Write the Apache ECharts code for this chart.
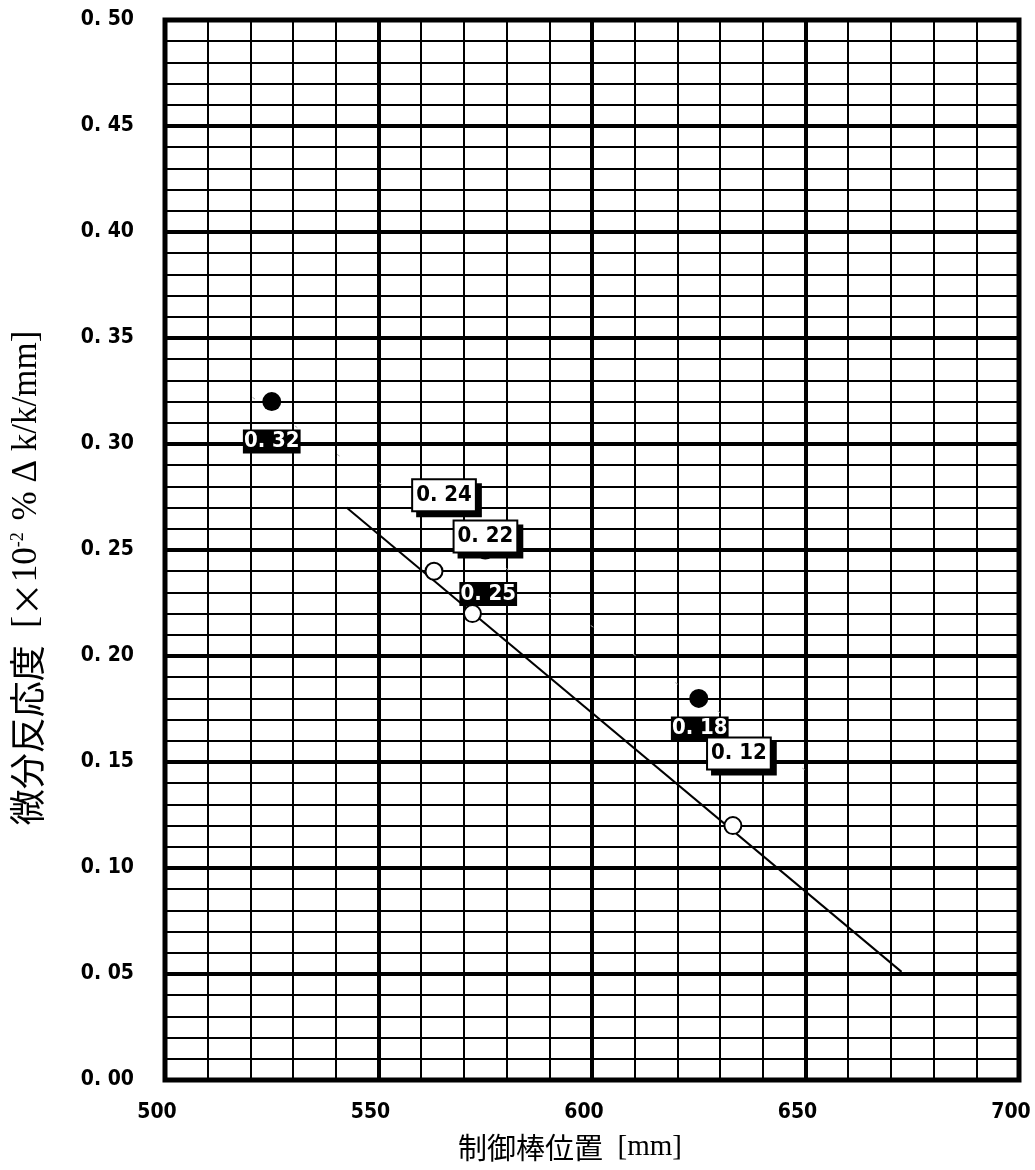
<!DOCTYPE html>
<html>
<head>
<meta charset="utf-8">
<script src="https://cdn.jsdelivr.net/npm/echarts@6/dist/echarts.min.js"></script>
<style>
  html, body { margin: 0; padding: 0; background: #fff; }
  #chart { width: 1035px; height: 1170px; }
</style>
</head>
<body>
<div id="chart"></div>
<script>
// Control rod position [mm] and differential reactivity worth values
const filledX = [525, 575, 625];
const filledY = [0.32, 0.25, 0.18];
const openX = [563, 572, 633];
const openY = [0.24, 0.22, 0.12];
// Straight fit drawn through the open-circle measurements
const fitX = [542.5, 672.5];
const fitY = [0.270, 0.051];
// Faint dashed guide through the filled-circle measurements
const guideX = [520.5, 653];
const guideY = [0.322, 0.142];

const xTickLabels = ['500', '550', '600', '650', '700'];
const yTickLabels = ['0. 00', '0. 05', '0. 10', '0. 15', '0. 20', '0. 25',
                     '0. 30', '0. 35', '0. 40', '0. 45', '0. 50'];

const numFont = '"DejaVu Sans Condensed", "Liberation Sans Narrow", "DejaVu Sans", sans-serif';
const cjkFont = '"Noto Sans CJK JP", sans-serif';
const serifFont = '"Liberation Serif", "DejaVu Serif", serif';

const pairs = (xs, ys) => xs.map((x, i) => [x, ys[i]]);
const valueText = v => v.toFixed(2).replace('.', '. ');

// label placement around each marker
const filledLabelOffset = [[0, 40], [3, 44], [1, 30]];
const openLabelOffset = [[10, -76], [13, -77], [6, -72]];

const chart = echarts.init(document.getElementById('chart'));

chart.setOption({
  animation: false,
  backgroundColor: '#fff',
  grid: {
    left: 165, right: 16, top: 20, bottom: 90,
    show: true, borderColor: '#000', borderWidth: 5, backgroundColor: 'transparent'
  },
  xAxis: {
    type: 'value', min: 500, max: 700, interval: 50,
    axisLine: { show: false }, axisTick: { show: false },
    axisLabel: {
      formatter: (v) => xTickLabels[Math.round((v - 500) / 50)],
      color: '#000', fontFamily: numFont, fontWeight: 'bold', fontSize: 21,
      margin: 22, padding: [0, 16, 0, 0]
    },
    splitLine: { show: true, lineStyle: { color: '#000', width: 4 } },
    minorTick: { show: false, splitNumber: 5 },
    minorSplitLine: { show: true, lineStyle: { color: '#000', width: 2 } },
    name: '{j|制御棒位置}{l|  [mm]}',
    nameLocation: 'middle',
    nameGap: 53,
    nameTextStyle: {
      padding: [0, 44, 0, 0],
      rich: {
        j: { fontFamily: cjkFont, fontSize: 29, color: '#000' },
        l: { fontFamily: serifFont, fontSize: 29, color: '#000' }
      }
    }
  },
  yAxis: {
    type: 'value', min: 0, max: 0.5, interval: 0.05,
    axisLine: { show: false }, axisTick: { show: false },
    axisLabel: {
      formatter: (v) => yTickLabels[Math.round(v / 0.05)],
      color: '#000', fontFamily: numFont, fontWeight: 'bold', fontSize: 21,
      margin: 31
    },
    splitLine: { show: true, lineStyle: { color: '#000', width: 4 } },
    minorTick: { show: false, splitNumber: 5 },
    minorSplitLine: { show: true, lineStyle: { color: '#000', width: 2 } },
    name: '{j|微分反応度}{l|  [}{x|×}{l|10}{s|-2}{l| % Δ k/k/mm]}',
    nameLocation: 'middle',
    nameRotate: 90,
    nameGap: 120,
    nameTextStyle: {
      padding: [0, 56, 0, 0],
      rich: {
        j: { fontFamily: cjkFont, fontSize: 36, color: '#000' },
        x: { fontFamily: cjkFont, fontSize: 34, color: '#000' },
        l: { fontFamily: serifFont, fontSize: 35, color: '#000' },
        s: { fontFamily: serifFont, fontSize: 18, color: '#000', verticalAlign: 'top', padding: [0, 3, 16, 0] }
      }
    }
  },
  series: [
    {
      type: 'line', data: pairs(guideX, guideY), symbol: 'none', silent: true,
      lineStyle: { color: '#aaa', width: 1, type: [3, 48] }, z: 2
    },
    {
      type: 'line', data: pairs(fitX, fitY), symbol: 'none', silent: true,
      lineStyle: { color: '#000', width: 2 }, z: 3
    },
    {
      type: 'scatter', symbol: 'circle', symbolSize: 19, z: 5,
      itemStyle: { color: '#000', opacity: 1 },
      data: pairs(filledX, filledY).map((p, i) => ({
        value: p,
        label: { offset: filledLabelOffset[i] }
      })),
      label: {
        show: true, position: 'inside',
        formatter: (p) => valueText(p.value[1]),
        color: '#fff', fontFamily: numFont, fontWeight: 'bold', fontSize: 22,
        backgroundColor: '#000', padding: [2, 1, 0, 1]
      }
    },
    {
      type: 'scatter', symbol: 'circle', symbolSize: 17, z: 6,
      itemStyle: { color: '#fff', borderColor: '#000', borderWidth: 2, opacity: 1 },
      data: pairs(openX, openY).map((p, i) => ({
        value: p,
        label: { offset: openLabelOffset[i] }
      })),
      label: {
        show: true, position: 'inside',
        formatter: (p) => valueText(p.value[1]),
        color: '#000', fontFamily: numFont, fontWeight: 'bold', fontSize: 22,
        backgroundColor: '#fff', borderColor: '#000', borderWidth: 2,
        padding: [5, 3, 3, 3],
        shadowColor: '#000', shadowOffsetX: 5, shadowOffsetY: 5, shadowBlur: 0
      }
    }
  ]
});
</script>
</body>
</html>
